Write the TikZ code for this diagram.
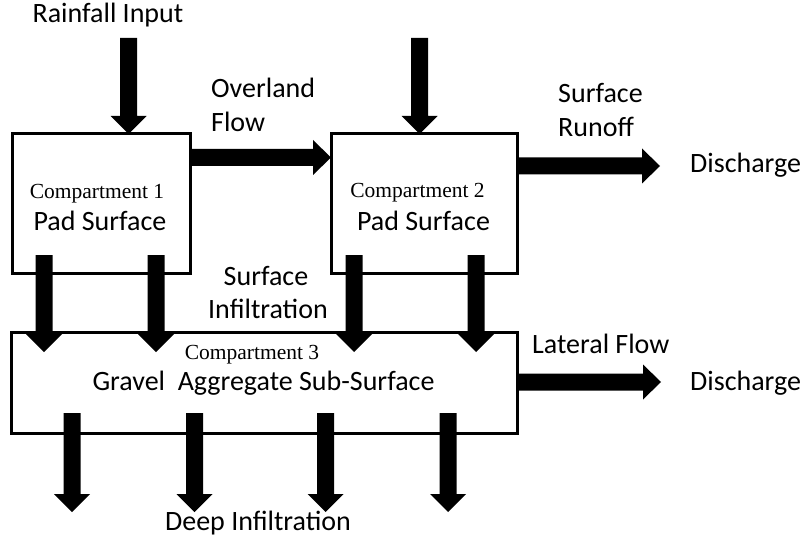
\documentclass[tikz,border=0pt]{standalone}
\usepackage{fontspec}
\setmainfont{Carlito}
\newfontfamily\tnrfont{Liberation Serif}
\usetikzlibrary{calc}
\tikzset{
  compbox/.style={draw=black, line width=3pt, fill=white, inner sep=0pt, outer sep=0pt},
  lbl/.style={inner sep=0pt, font=\fontsize{28}{33}\selectfont, text=black},
  complbl/.style={inner sep=0pt, font=\tnrfont\fontsize{21.5}{25}\selectfont, text=black},
  blockarrow/.style={fill=black}
}
\newcommand{\blkdown}[2]{\fill[blockarrow] ($(#1)+(-8.5,0)$) -- ($(#2)+(-8.5,-18)$) -- ($(#2)+(-18,-18)$) -- (#2) -- ($(#2)+(18,-18)$) -- ($(#2)+(8.5,-18)$) -- ($(#1)+(8.5,0)$) -- cycle;}
\newcommand{\blkright}[2]{\fill[blockarrow] ($(#1)+(0,-8.5)$) -- ($(#2)+(-18,-8.5)$) -- ($(#2)+(-18,-17.5)$) -- (#2) -- ($(#2)+(-18,17.5)$) -- ($(#2)+(-18,8.5)$) -- ($(#1)+(0,8.5)$) -- cycle;}
\begin{document}
\begin{tikzpicture}[x=1pt,y=-1pt]
\useasboundingbox[fill=white] (0,0) rectangle (805,540);
% boxes
\node[compbox, minimum width=178pt, minimum height=139pt] (c1) at (101,203.5) {};
\node[compbox, minimum width=186pt, minimum height=139pt] (c2) at (424,203.5) {};
\node[compbox, minimum width=506pt, minimum height=101pt] (c3) at (264,382.5) {};
% box labels
\node[complbl, anchor=base] (c1t) at (97,198) {Compartment 1};
\node[lbl, anchor=base] (c1p) at (100,230) {Pad Surface};
\node[complbl, anchor=base] (c2t) at (417.5,197) {Compartment 2};
\node[lbl, anchor=base] (c2p) at (423.5,230) {Pad Surface};
\node[complbl, anchor=base] (c3t) at (252,359) {Compartment 3};
\node[lbl, anchor=base] (c3g) at (263.5,390) {Gravel\ \ Aggregate Sub-Surface};
% other labels
\node[lbl, anchor=base] (rain) at (108,23) {Rainfall Input};
\node[lbl, anchor=base west] (ov1) at (211,98) {Overland};
\node[lbl, anchor=base west] (ov2) at (211,132) {Flow};
\node[lbl, anchor=base west] (sr1) at (558,103) {Surface};
\node[lbl, anchor=base west] (sr2) at (558,137) {Runoff};
\node[lbl, anchor=base west] (dis1) at (690,173) {Discharge};
\node[lbl, anchor=base] (si1) at (266,285) {Surface};
\node[lbl, anchor=base] (si2) at (268,318) {Infiltration};
\node[lbl, anchor=base west] (lat) at (532,353) {Lateral Flow};
\node[lbl, anchor=base west] (dis2) at (690,390) {Discharge};
\node[lbl, anchor=base] (deep) at (258,530) {Deep Infiltration};
% arrow end points
\coordinate (r1s) at (128.5,38);
\coordinate (r1e) at (r1s |- c1.north);
\coordinate (r2s) at (419.5,38);
\coordinate (r2e) at (r2s |- c2.north);
\coordinate (ofs) at (c1.east |- 0,157.5);
\coordinate (ofe) at (c2.west |- 0,157.5);
\coordinate (srs) at (c2.east |- 0,166);
\coordinate (sre) at (660,166);
\coordinate (lfs) at (c3.east |- 0,382);
\coordinate (lfe) at (661,382);
\coordinate (i1s) at (44,255);   \coordinate (i1e) at (44,352);
\coordinate (i2s) at (156,255);  \coordinate (i2e) at (156,352);
\coordinate (i3s) at (354,255);  \coordinate (i3e) at (354,352);
\coordinate (i4s) at (476,255);  \coordinate (i4e) at (476,352);
\coordinate (d1s) at (72,413);   \coordinate (d1e) at (72,512);
\coordinate (d2s) at (194.5,413);\coordinate (d2e) at (194.5,512);
\coordinate (d3s) at (325.5,413);\coordinate (d3e) at (325.5,512);
\coordinate (d4s) at (448,413);  \coordinate (d4e) at (448,512);
% arrows
\blkdown{r1s}{r1e}
\blkdown{r2s}{r2e}
\blkright{ofs}{ofe}
\blkright{srs}{sre}
\blkright{lfs}{lfe}
\blkdown{i1s}{i1e}
\blkdown{i2s}{i2e}
\blkdown{i3s}{i3e}
\blkdown{i4s}{i4e}
\blkdown{d1s}{d1e}
\blkdown{d2s}{d2e}
\blkdown{d3s}{d3e}
\blkdown{d4s}{d4e}
\end{tikzpicture}
\end{document}
